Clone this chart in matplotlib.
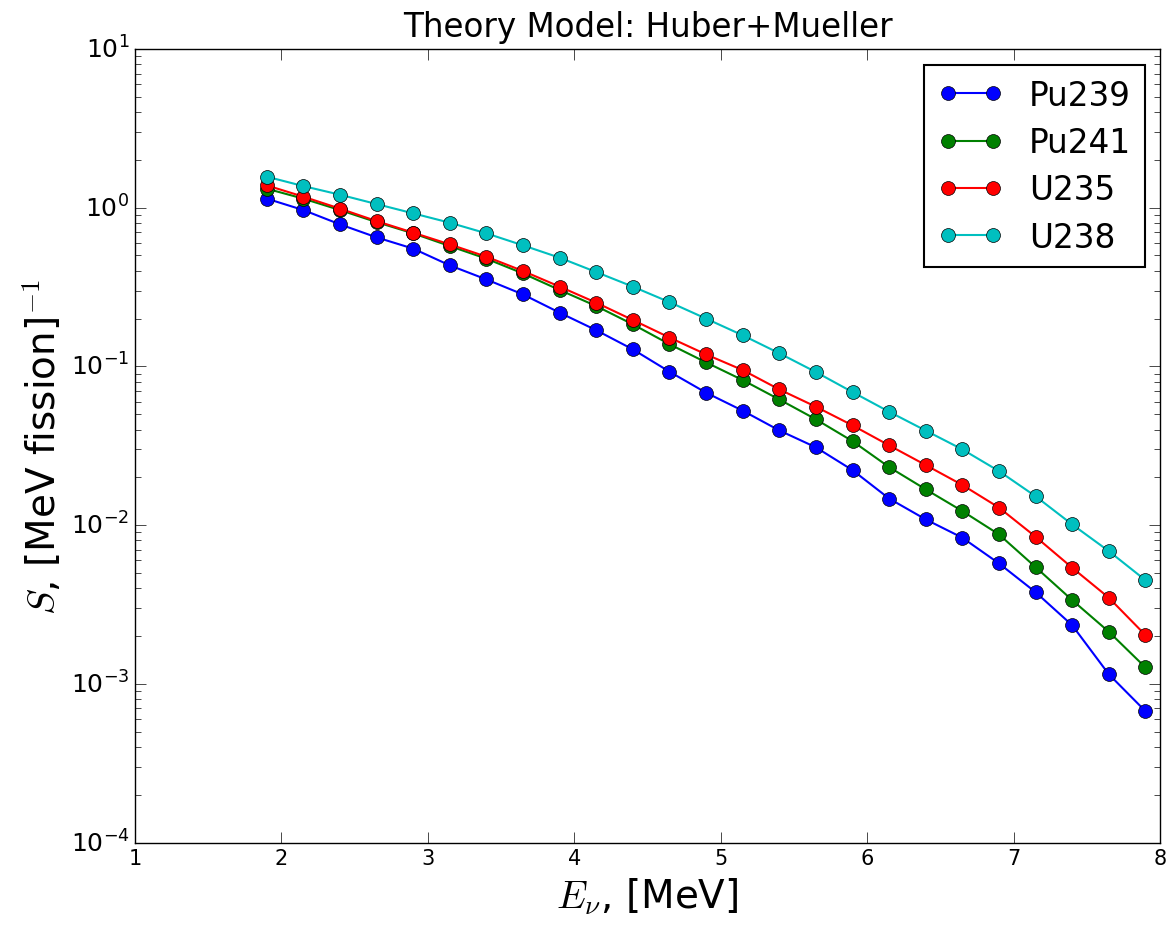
import matplotlib
matplotlib.use("Agg")
import matplotlib.pyplot as plt
import numpy as np

plt.style.use('classic')

energy = [1.9, 2.15, 2.4, 2.65, 2.9, 3.15, 3.4, 3.65, 3.9, 4.15, 4.4, 4.65, 4.9,
          5.15, 5.4, 5.65, 5.9, 6.15, 6.4, 6.65, 6.9, 7.15, 7.4, 7.65, 7.9]

pu239 = [1.14, 0.966, 0.785, 0.650, 0.552, 0.433, 0.353, 0.284, 0.218, 0.169,
         0.128, 0.0926, 0.0683, 0.0526, 0.0395, 0.0309, 0.0222, 0.0147, 0.01086,
         0.00833, 0.00574, 0.00378, 0.00234, 0.00115, 0.000673]
pu241 = [1.317, 1.14, 0.966, 0.811, 0.689, 0.573, 0.477, 0.385, 0.303, 0.240,
         0.184, 0.138, 0.106, 0.0820, 0.0619, 0.0464, 0.0338, 0.0232, 0.0168,
         0.01226, 0.00874, 0.00544, 0.00337, 0.00213, 0.00127]
u235 = [1.382, 1.173, 0.986, 0.823, 0.696, 0.587, 0.491, 0.399, 0.318, 0.252,
        0.196, 0.152, 0.119, 0.0948, 0.0716, 0.0557, 0.0425, 0.0318, 0.0239,
        0.0179, 0.0129, 0.00845, 0.00539, 0.00349, 0.00203]
u238 = [1.568, 1.368, 1.207, 1.054, 0.921, 0.804, 0.689, 0.579, 0.484, 0.393,
        0.318, 0.254, 0.200, 0.157, 0.121, 0.0921, 0.0689, 0.0518, 0.0394,
        0.0300, 0.0219, 0.0152, 0.0101, 0.00686, 0.00450]

series = [("Pu239", pu239, "b"), ("Pu241", pu241, "g"),
          ("U235", u235, "r"), ("U238", u238, "c")]

fig = plt.figure(figsize=(11.76, 9.29), dpi=100, facecolor='white')
ax = fig.add_axes([0.1148, 0.092, 0.8716, 0.8542])

for name, vals, col in series:
    ax.plot(energy, vals, '-o', color=col, markerfacecolor=col,
            markeredgecolor='k', markersize=10, linewidth=1.5, label=name)

ax.set_yscale('log')
ax.set_xlim(1, 8)
ax.set_ylim(1e-4, 10)
ax.tick_params(axis='x', which='major', labelsize=15, length=8)
ax.tick_params(axis='y', which='major', labelsize=18, length=8)
ax.tick_params(axis='both', which='minor', length=4)
ax.set_xlabel(r'$E_{\nu}$, [MeV]', fontsize=28)
ax.set_ylabel(r'$S$, [MeV fission]$^{-1}$', fontsize=28)
ax.set_title('Theory Model: Huber+Mueller', fontsize=23.5, pad=9)
leg = ax.legend(loc='upper right', fontsize=23.5, numpoints=2,
                borderaxespad=0, labelspacing=0.44, borderpad=0.42,
                bbox_to_anchor=(0.9736, 0.929), bbox_transform=fig.transFigure)
leg.get_frame().set_linewidth(1.5)

fig.savefig('out.png', dpi=100, facecolor='white')
